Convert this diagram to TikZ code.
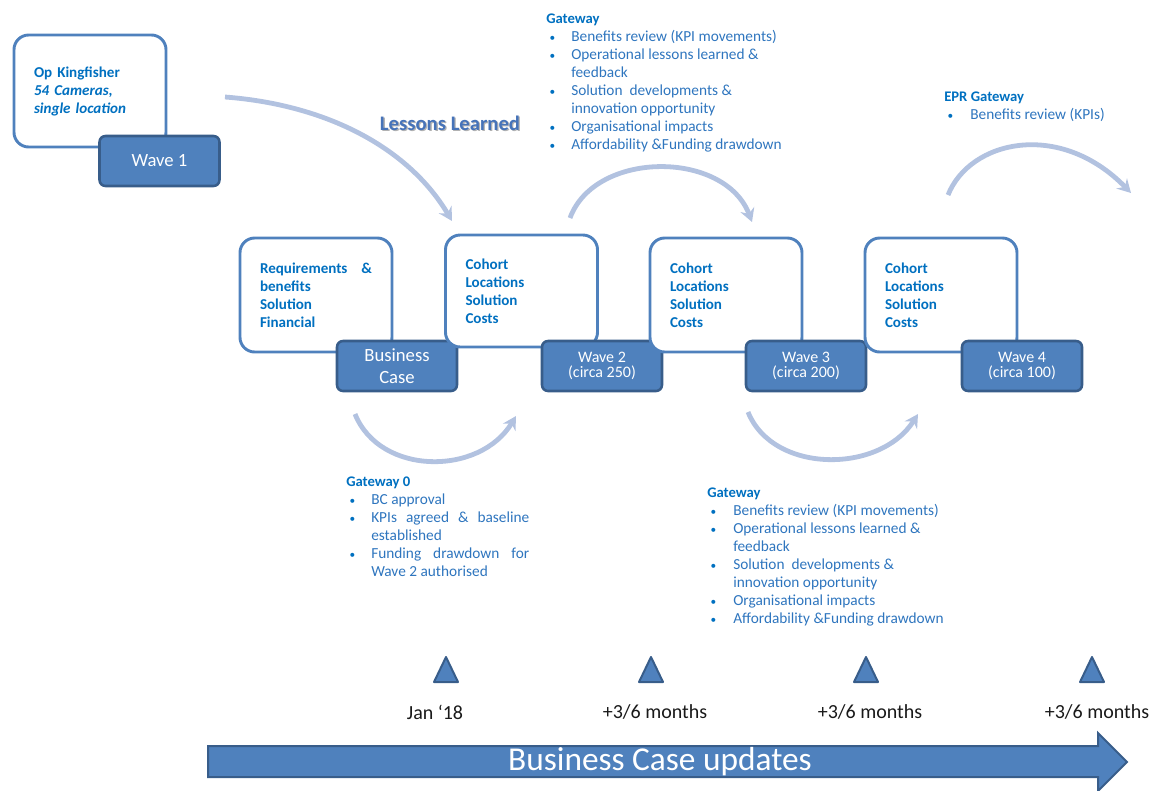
\documentclass[tikz,border=0pt]{standalone}
\usepackage{fontspec}
\setmainfont{Carlito}
\usetikzlibrary{arrows.meta}
\definecolor{boxblue}{RGB}{79,129,189}
\definecolor{darkblue}{RGB}{56,93,138}
\definecolor{headblue}{RGB}{0,112,192}
\definecolor{itemblue}{RGB}{46,117,190}
\definecolor{arcblue}{RGB}{178,194,224}
\definecolor{llblue}{RGB}{70,115,185}
\definecolor{dategray}{RGB}{25,25,25}
\newcommand\gwbul{\hspace*{2.6pt}{\fontsize{8.5}{8.5}\selectfont\color{headblue}\textbullet}}
\newcommand\gwhd[1]{{\fontsize{11}{13.5}\selectfont\bfseries\color{headblue}#1}}
\begin{document}
\begin{tikzpicture}[x=0.75pt,y=-0.75pt,
  whitebox/.style={draw=boxblue, line width=2.2pt, rounded corners=11pt, fill=white,
    minimum width=114pt, minimum height=85.5pt, text width=84pt, align=left,
    font=\fontsize{11.3}{13.5}\selectfont\bfseries, text=headblue, inner sep=0pt},
  wavebox/.style={draw=darkblue, line width=1.9pt, rounded corners=4.5pt, fill=boxblue,
    minimum width=90pt, minimum height=37.5pt, text=white, align=center, inner sep=0pt},
  wavebig/.style={wavebox, font=\fontsize{14}{16.5}\selectfont},
  wavesmall/.style={wavebox, font=\fontsize{12}{11.3}\selectfont},
  arc/.style={draw=arcblue, line width=3.6pt, -{Stealth[length=10pt,width=11pt,inset=3.5pt]}},
  gwblock/.style={font=\fontsize{11.5}{13.5}\selectfont, text=itemblue, inner sep=0pt, anchor=base west},
  tri/.style={fill=boxblue, draw=darkblue, line width=1.5pt, line join=round},
  datelab/.style={font=\fontsize{15}{18}\selectfont, text=dategray},
  bigarrow/.style={fill=boxblue, draw=darkblue, line width=1.5pt, line join=miter}
]
\useasboundingbox (0,0) rectangle (1153,790);

% curved arrows
\coordinate (c1s) at (225,97);   \coordinate (c1e) at (452,221);
\coordinate (c2s) at (570,218);  \coordinate (c2e) at (752,222);
\coordinate (c3s) at (355,414);  \coordinate (c3e) at (516,416);
\coordinate (c4s) at (748,412);  \coordinate (c4e) at (918,414);
\coordinate (c5s) at (948,195);  \coordinate (c5e) at (1131,193);
\draw[arc] (c1s) .. controls (330,105) and (410,150) .. (c1e);
\draw[arc] (c2s) .. controls (595,150) and (725,150) .. (c2e);
\draw[arc] (c3s) .. controls (380,476) and (480,476) .. (c3e);
\draw[arc] (c4s) .. controls (773,474) and (880,474) .. (c4e);
\draw[arc] (c5s) .. controls (970,140) and (1060,120) .. (c5e);

% Wave 1
\node[whitebox, minimum height=84pt] (king) at (90,91)
  {Op Kingfisher\\\itshape 54 Cameras,\\single location};
\node[wavebig] (w1) at (159.5,161) {Wave 1};

% Lessons learned
\node[font=\fontsize{15.5}{18}\selectfont\bfseries, text=black!30] (llshadow) at (451.3,124.3) {Lessons Learned};
\node[font=\fontsize{15.5}{18}\selectfont\bfseries, text=llblue] (ll) at (450,123) {Lessons Learned};

% boxes row
\node[whitebox] (req) at (316,295)
  {\leavevmode\hbox to 84pt{Requirements\hfill\&}\\benefits\\Solution\\Financial};
\node[wavebig] (bc) at (397,366) {Business\\Case};

\node[whitebox, minimum height=84pt] (co2) at (521.5,291)
  {Cohort\\Locations\\Solution\\Costs};
\node[wavesmall] (w2) at (602,366) {Wave 2\\(circa 250)};

\node[whitebox] (co3) at (726,295)
  {Cohort\\Locations\\Solution\\Costs};
\node[wavesmall] (w3) at (806,366) {Wave 3\\(circa 200)};

\node[whitebox] (co4) at (941,295)
  {Cohort\\Locations\\Solution\\Costs};
\node[wavesmall] (w4) at (1022,366) {Wave 4\\(circa 100)};

% gateway texts
\node[gwblock] (gwtop) at (546,23) {\begin{tabular}[t]{@{}p{18.75pt}@{}l@{}}
\multicolumn{2}{@{}l@{}}{\gwhd{Gateway}}\\
\gwbul & Benefits review (KPI movements)\\
\gwbul & Operational lessons learned \&\\
 & feedback\\
\gwbul & Solution\ \ developments \&\\
 & innovation opportunity\\
\gwbul & Organisational impacts\\
\gwbul & Affordability \&Funding drawdown
\end{tabular}};

\node[gwblock] (gwepr) at (944,101) {\begin{tabular}[t]{@{}p{19.5pt}@{}l@{}}
\multicolumn{2}{@{}l@{}}{\gwhd{EPR Gateway}}\\
\gwbul & Benefits review (KPIs)
\end{tabular}};

\node[gwblock] (gw0) at (346,486) {\begin{tabular}[t]{@{}p{18.75pt}@{}l@{}}
\multicolumn{2}{@{}l@{}}{\gwhd{Gateway 0}}\\
\gwbul & BC approval\\
\gwbul & \hbox to 118.5pt{KPIs\hfill agreed\hfill\&\hfill baseline}\\
 & established\\
\gwbul & \hbox to 118.5pt{Funding\hfill drawdown\hfill for}\\
 & Wave 2 authorised
\end{tabular}};

\node[gwblock] (gwbot) at (707,497) {\begin{tabular}[t]{@{}p{19.5pt}@{}l@{}}
\multicolumn{2}{@{}l@{}}{\gwhd{Gateway}}\\
\gwbul & Benefits review (KPI movements)\\
\gwbul & Operational lessons learned \&\\
 & feedback\\
\gwbul & Solution\ \ developments \&\\
 & innovation opportunity\\
\gwbul & Organisational impacts\\
\gwbul & Affordability \&Funding drawdown
\end{tabular}};

% timeline markers
\foreach \x in {446,651,866,1092}
  \draw[tri] (\x,657) -- (\x+12,682) -- (\x-12,682) -- cycle;
\node[datelab] (d1) at (435,712) {Jan ‘18};
\node[datelab] (d2) at (655,712) {+3/6 months};
\node[datelab] (d3) at (870,712) {+3/6 months};
\node[datelab] (d4) at (1097,712) {+3/6 months};

% big arrow
\draw[bigarrow] (208,746) -- (1098,746) -- (1098,733) -- (1127,762) -- (1098,791)
  -- (1098,777) -- (208,777) -- cycle;
\node[font=\fontsize{25}{28}\selectfont, text=white] (bcu) at (660,762) {Business Case updates};
\end{tikzpicture}
\end{document}
